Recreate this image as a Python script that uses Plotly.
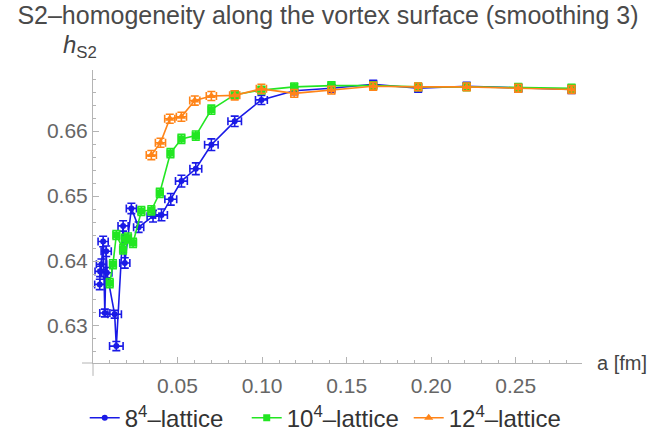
import plotly.graph_objects as go

# ---- data ----
a8 = [0.0040, 0.0042, 0.0050, 0.0060, 0.0070, 0.0078, 0.0082, 0.0128, 0.0138, 0.0178, 0.0188,
      0.0227, 0.0270, 0.0355, 0.0405, 0.0460, 0.0523, 0.0608, 0.0700, 0.0838, 0.0996,
      0.1190, 0.1410, 0.1657, 0.1923, 0.2210, 0.2515, 0.2830]
h8 = [0.6364, 0.6384, 0.6395, 0.6430, 0.6320, 0.6415, 0.6382, 0.6318, 0.6269, 0.6454, 0.6397,
      0.6481, 0.6452, 0.6469, 0.6471, 0.6495, 0.6523, 0.6542, 0.6579, 0.6615, 0.6648,
      0.6662, 0.6666, 0.6672, 0.6666, 0.6669, 0.6666, 0.6664]
da8 = [0.003, 0.003, 0.003, 0.003, 0.003, 0.003, 0.003, 0.004, 0.004, 0.003, 0.003,
       0.003, 0.003, 0.0035, 0.0035, 0.0035, 0.0035, 0.0035, 0.004, 0.004, 0.0035,
       0.002, 0.002, 0.002, 0.002, 0.002, 0.002, 0.002]
dh8 = [0.0008, 0.0008, 0.0008, 0.0008, 0.0006, 0.0008, 0.0008, 0.0006, 0.0007, 0.0008, 0.0008,
       0.0008, 0.0008, 0.0009, 0.0009, 0.0009, 0.0009, 0.0009, 0.0009, 0.0008, 0.0007,
       0.0006, 0.0006, 0.0006, 0.0006, 0.0006, 0.0006, 0.0006]

a10 = [0.0099, 0.0118, 0.0138, 0.0178, 0.0188, 0.0207, 0.0237, 0.0286, 0.0345, 0.0395,
       0.0458, 0.0523, 0.0608, 0.0700, 0.0838, 0.0996, 0.1190, 0.1410, 0.1657, 0.1923,
       0.2210, 0.2515, 0.2830]
h10 = [0.6366, 0.6395, 0.6440, 0.6418, 0.6434, 0.6436, 0.6428, 0.6477, 0.6478, 0.6505,
       0.6566, 0.6588, 0.6593, 0.6633, 0.6656, 0.6663, 0.6668, 0.6670, 0.6670, 0.6668,
       0.6668, 0.6667, 0.6666]
da10 = [0.002, 0.002, 0.002, 0.002, 0.002, 0.002, 0.002, 0.002, 0.002, 0.002,
        0.002, 0.002, 0.002, 0.002, 0.002, 0.002, 0.002, 0.002, 0.002, 0.002,
        0.002, 0.002, 0.002]
dh10 = [0.0007, 0.0007, 0.0007, 0.0007, 0.0007, 0.0007, 0.0007, 0.0007, 0.0007, 0.0007,
        0.0007, 0.0007, 0.0007, 0.0007, 0.0006, 0.0006, 0.0006, 0.0006, 0.0006, 0.0006,
        0.0006, 0.0006, 0.0006]

a12 = [0.0345, 0.0399, 0.0454, 0.0523, 0.0602, 0.0700, 0.0838, 0.0996, 0.1190, 0.1410,
       0.1657, 0.1923, 0.2210, 0.2515, 0.2830]
h12 = [0.6563, 0.6582, 0.6619, 0.6622, 0.6647, 0.6654, 0.6655, 0.6665, 0.6658, 0.6663,
       0.6669, 0.6668, 0.6668, 0.6666, 0.6664]
da12 = [0.003, 0.003, 0.003, 0.003, 0.003, 0.003, 0.003, 0.003, 0.002, 0.002,
        0.002, 0.002, 0.002, 0.002, 0.002]
dh12 = [0.0007, 0.0007, 0.0007, 0.0007, 0.0007, 0.0007, 0.0007, 0.0007, 0.0006, 0.0006,
        0.0006, 0.0006, 0.0006, 0.0006, 0.0006]

x_ticks = [0.05, 0.10, 0.15, 0.20, 0.25]
x_labels = ["0.05", "0.10", "0.15", "0.20", "0.25"]
y_ticks = [0.63, 0.64, 0.65, 0.66]
y_labels = ["0.63", "0.64", "0.65", "0.66"]

series = [
    ("8<sup>4</sup>\u2013lattice", a8, h8, da8, dh8, "#1a1ae6", "circle", 6),
    ("10<sup>4</sup>\u2013lattice", a10, h10, da10, dh10, "#22e622", "square", 7),
    ("12<sup>4</sup>\u2013lattice", a12, h12, da12, dh12, "#ff8418", "triangle-up", 8),
]

FONT = "Liberation Sans, Arial, sans-serif"
AX = "#b4b4b4"

fig = go.Figure()
for name, x, y, dx, dy, col, sym, ms in series:
    fig.add_trace(go.Scatter(
        x=x, y=y, mode="lines+markers", name=name,
        line=dict(color=col, width=1.6),
        marker=dict(symbol=sym, size=ms, color=col),
        error_x=dict(type="data", array=dx, color=col, thickness=1.6, width=4),
        error_y=dict(type="data", array=dy, color=col, thickness=1.6, width=4),
        cliponaxis=False,
    ))

fig.update_layout(
    width=656, height=434,
    margin=dict(l=93, r=74, t=70, b=71, autoexpand=False),
    plot_bgcolor="white", paper_bgcolor="white",
    font=dict(family=FONT, color="#555555"),
    title=dict(text="S2\u2013homogeneity along the vortex surface (smoothing 3)",
               xref="container", x=0.5, xanchor="center",
               yref="container", y=1 - 15 / 434, yanchor="middle",
               font=dict(size=25, color="#4a4a4a", family=FONT)),
    xaxis=dict(range=[0, 0.2892], showline=True, linecolor=AX, linewidth=1,
               ticks="inside", ticklen=6, tickcolor=AX,
               tickvals=x_ticks, ticktext=x_labels, ticklabelstandoff=4,
               minor=dict(tick0=0, dtick=0.01, ticks="inside", ticklen=3, tickcolor=AX),
               showgrid=False, zeroline=False,
               tickfont=dict(size=21, color="#666666")),
    yaxis=dict(range=[0.6243, 0.6694], showline=True, linecolor=AX, linewidth=1,
               ticks="inside", ticklen=6, tickcolor=AX,
               tickvals=y_ticks, ticktext=y_labels,
               minor=dict(tick0=0.62, dtick=0.002, ticks="inside", ticklen=3, tickcolor=AX),
               showgrid=False, zeroline=False,
               tickfont=dict(size=21, color="#666666")),
    legend=dict(orientation="h", x=0.48, xanchor="center", y=-0.188, yanchor="middle",
                entrywidth=117, entrywidthmode="pixels",
                font=dict(size=24, color="#333333", family=FONT)),
    annotations=[
        dict(text="<i>h</i><sub>S2</sub>", xref="paper", yref="paper",
             x=-0.066, y=1.08, xanchor="left", yanchor="middle", showarrow=False,
             font=dict(size=24, color="#444444", family=FONT)),
        dict(text="a [fm]", xref="paper", yref="paper",
             x=1.026, y=0.0, xanchor="left", yanchor="middle", showarrow=False,
             font=dict(size=20, color="#444444", family=FONT)),
    ],
    shapes=[
        dict(type="line", xref="paper", yref="paper", x0=-0.0225, x1=0, y0=0, y1=0,
             line=dict(color=AX, width=1)),
        dict(type="line", xref="paper", yref="paper", x0=0, x1=0, y0=0, y1=-0.044,
             line=dict(color=AX, width=1)),
    ],
)

fig.write_html("out.html", config={"displayModeBar": False},
               post_script="document.body.style.margin='0';")
